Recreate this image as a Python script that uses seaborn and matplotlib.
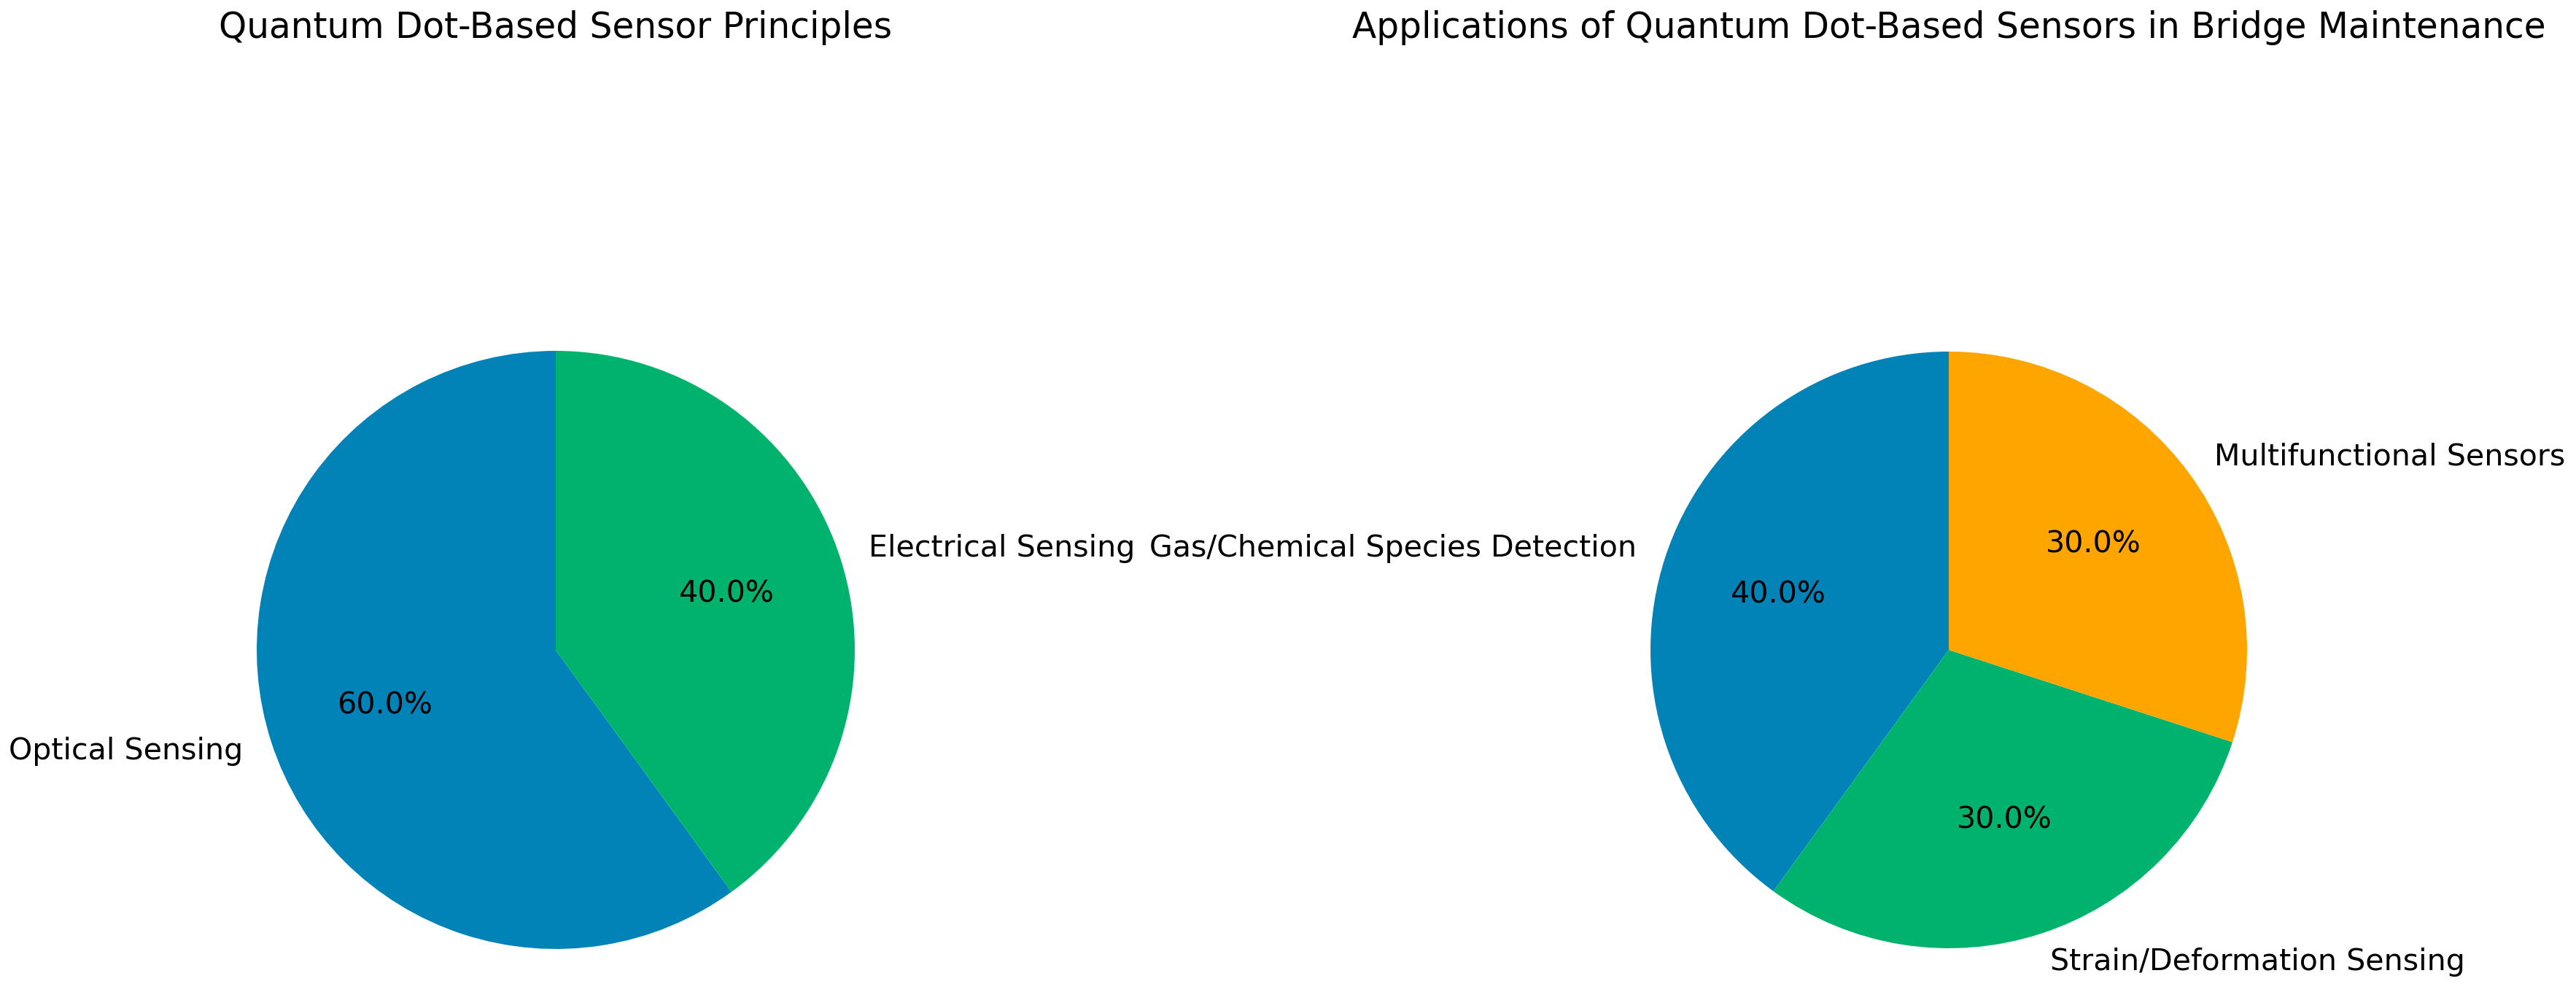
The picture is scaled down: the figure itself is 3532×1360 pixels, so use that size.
"""
Quantum dot sensor pie charts
"""
import matplotlib
matplotlib.use('Agg')
import matplotlib.pyplot as plt
import seaborn as sns

# Data
principle_labels = ['Optical Sensing', 'Electrical Sensing']
principle_shares = [60, 40]

application_labels = ['Gas/Chemical Species Detection',
                      'Strain/Deformation Sensing',
                      'Multifunctional Sensors']
application_shares = [40, 30, 30]

principle_title = 'Quantum Dot-Based Sensor Principles'
application_title = 'Applications of Quantum Dot-Based Sensors in Bridge Maintenance'

# Colours
blue, green, orange = '#0183b8', '#00b36d', '#ffa500'

sns.set_theme(style='white')
plt.rcParams['font.family'] = ['DejaVu Sans']
plt.rcParams['text.color'] = 'black'

W, H, DPI = 3532, 1360, 200
fig = plt.figure(figsize=(W / DPI, H / DPI), dpi=DPI)
fig.patch.set_facecolor('white')

label_fs = 14.8
title_fs = 17.5


def add_pie(cx, cy, radius, shares, labels, colors, title):
    """Place a pie with its centre at (cx, cy) pixels (from top-left)."""
    box = 2.5 * radius
    ax = fig.add_axes([(cx - box / 2) / W, (H - cy - box / 2) / H, box / W, box / H])
    ax.pie(shares, labels=labels, colors=colors, autopct='%1.1f%%',
           startangle=90, textprops={'fontsize': label_fs, 'color': 'black'},
           wedgeprops={'linewidth': 0, 'edgecolor': 'none'})
    ax.set_aspect('equal')
    title_y = (cy - 38) / box + 0.5
    ax.text(0.5, title_y, title, transform=ax.transAxes, ha='center', va='center',
            fontsize=title_fs, color='black')
    return ax


add_pie(762, 891, 410, principle_shares, principle_labels, [blue, green], principle_title)
add_pie(2672, 891, 409, application_shares, application_labels, [blue, green, orange],
        application_title)

fig.savefig('out.png', dpi=DPI, facecolor='white')
plt.close(fig)
